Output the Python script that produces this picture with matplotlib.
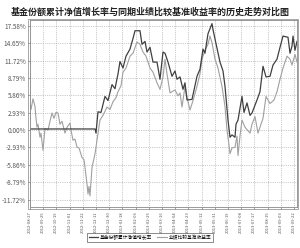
import matplotlib
matplotlib.use("Agg")
import matplotlib.pyplot as plt
from matplotlib.patches import Rectangle

plt.rcParams['font.family'] = ['Noto Sans CJK SC', 'DejaVu Sans']

title = "基金份额累计净值增长率与同期业绩比较基准收益率的历史走势对比图"
fund_label = "基金份额累计净值增长率"
bench_label = "业绩比较基准收益率"

# x = trading-day index, y = return in %
fund_x = [0, 65, 66, 68, 71, 75, 78, 82, 85, 88, 90, 93, 96, 100, 103, 105, 110,
          112, 115, 117, 120, 123, 127, 130, 133, 135, 138, 142, 145, 147, 150,
          153, 155, 157, 162, 167, 170, 173, 175, 178, 182, 183, 185, 190, 193,
          195, 198, 200, 202, 205, 206, 208, 212, 214, 217, 220, 222, 227, 230,
          233, 236, 240, 243, 247, 250, 253, 258, 260, 262, 263, 265, 267]
fund_y = [0.2, 0.2, -0.5, 3.1, 3.0, 5.7, 5.0, 7.7, 7.0, 9.5, 11.6, 10.5, 12.5, 13.7, 15.5,
          16.8, 16.8, 14.5, 15.0, 13.2, 14.0, 11.5, 11.5, 8.6, 13.2, 13.0, 11.5,
          9.1, 10.0, 8.6, 9.0, 6.9, 8.0, 5.1, 5.2, 9.1, 10.3, 13.7, 13.0, 16.3,
          18.0, 17.0, 15.4, 11.5, 10.0, 7.4, 1.7, -1.2, -0.8, -1.2, 1.0, 1.7, 5.7,
          3.0, 4.6, 2.5, 2.9, 5.1, 6.5, 10.8, 9.0, 9.1, 11.0, 12.0, 14.0, 15.9,
          15.7, 13.0, 14.2, 15.9, 13.5, 15.0]

bench_x = [0, 1, 3, 5, 6, 7, 8, 10, 11, 13, 15, 18, 20, 22, 24, 26, 28, 30, 32,
           35, 37, 40, 41, 43, 45, 47, 49, 52, 54, 55, 57, 58, 59, 60, 62, 65,
           67, 70, 73, 77, 80, 83, 86, 88, 91, 93, 96, 100, 103, 107, 110, 113,
           116, 120, 123, 127, 130, 133, 135, 137, 140, 145, 148, 150, 152, 155,
           157, 160, 163, 167, 170, 172, 175, 178, 180, 182, 185, 188, 192, 195,
           197, 199, 200, 202, 205, 207, 208, 210, 212, 215, 220, 222, 225, 228,
           233, 236, 240, 244, 247, 250, 253, 257, 260, 262, 265, 267]
bench_y = [4.3, 3.5, 5.3, 4.0, 2.0, 0.5, 1.0, -1.2, -0.5, -3.4, 0.3, 0.0, 1.5,
           2.9, 2.0, 3.0, 2.9, 1.0, 1.5, -0.5, 0.5, 1.2, 0.0, -1.7, -1.5, -2.9,
           -3.0, -4.6, -5.0, -6.3, -9.1, -10.8, -9.5, -11.1, -6.3, -4.0, -1.7,
           1.7, 2.5, 3.9, 3.5, 4.8, 5.5, 6.5, 7.5, 9.8, 10.5, 12.5, 13.0, 14.9,
           14.5, 13.2, 12.5, 10.5, 9.8, 8.0, 6.9, 9.0, 12.0, 9.5, 6.3, 6.8, 5.8,
           6.3, 3.9, 7.4, 5.5, 3.4, 5.0, 7.4, 9.5, 12.0, 13.5, 14.5, 15.9, 14.8,
           12.0, 10.5, 7.4, 4.0, 0.0, -2.5, -4.0, -3.0, -2.9, -1.0, -4.3, -1.0,
           1.7, 0.5, -0.5, 1.0, 2.3, -0.5, 2.0, 5.7, 4.5, 5.1, 6.5, 8.6, 10.5,
           12.5, 12.0, 11.0, 12.8, 11.5, 12.0]
bench_y = bench_y[:len(bench_x)]

x_labels = ['2012-08-27', '2012-09-25', '2012-10-19', '2012-11-01', '2012-11-22',
            '2012-12-11', '2012-12-30', '2013-01-18', '2013-02-06', '2013-02-25',
            '2013-03-16', '2013-04-04', '2013-04-23', '2013-05-12', '2013-05-31',
            '2013-06-19', '2013-07-08', '2013-07-27', '2013-08-15', '2013-09-03',
            '2013-09-22']
y_ticks = [-11.72, -8.79, -5.86, -2.93, 0.0, 2.93, 5.86, 8.79, 11.72, 14.65, 17.58]

fig = plt.figure(figsize=(3.0, 2.48), dpi=100)
ax = fig.add_axes([0.1, 0.165, 0.89, 0.754])

ax.plot(bench_x, bench_y, color='#a0a0a0', lw=0.8, label=bench_label)
ax.plot(fund_x, fund_y, color='#404040', lw=0.9, label=fund_label)

ax.set_xlim(0, 267)
ax.set_ylim(-13.0, 18.6)
ax.set_yticks(y_ticks)
ax.set_yticklabels(['%.2f%%' % v for v in y_ticks], fontsize=4.6, color='#333333')
ax.set_xticks([round(13.2 * k) for k in range(len(x_labels))])
ax.set_xticklabels(x_labels, rotation=90, fontsize=3.0, color='#333333')
ax.tick_params(length=1.5, width=0.4, pad=1.5, colors='#555555')
ax.grid(True, linestyle=':', color='#999999', lw=0.5)

for s in ax.spines.values():
    s.set_color('#888888')
    s.set_linewidth(0.6)

# outer line of the double border
ax.add_patch(Rectangle((-0.008, -0.012), 1.012, 1.016, transform=ax.transAxes,
                       fill=False, ec='#999999', lw=0.6, clip_on=False))

fig.text(0.5, 0.952, title, ha='center', va='center', fontsize=6.5,
         fontweight='bold', color='#222222')

handles, labels = ax.get_legend_handles_labels()
leg = fig.legend(handles[::-1], labels[::-1], loc='center', ncol=2,
                 bbox_to_anchor=(0.5, 0.043), fontsize=3.4, frameon=True,
                 fancybox=False, handlelength=2.0, columnspacing=1.0,
                 borderpad=0.4, handletextpad=0.4)
leg.get_frame().set_edgecolor('#333333')
leg.get_frame().set_linewidth(0.5)

fig.savefig('out.png', dpi=100)
